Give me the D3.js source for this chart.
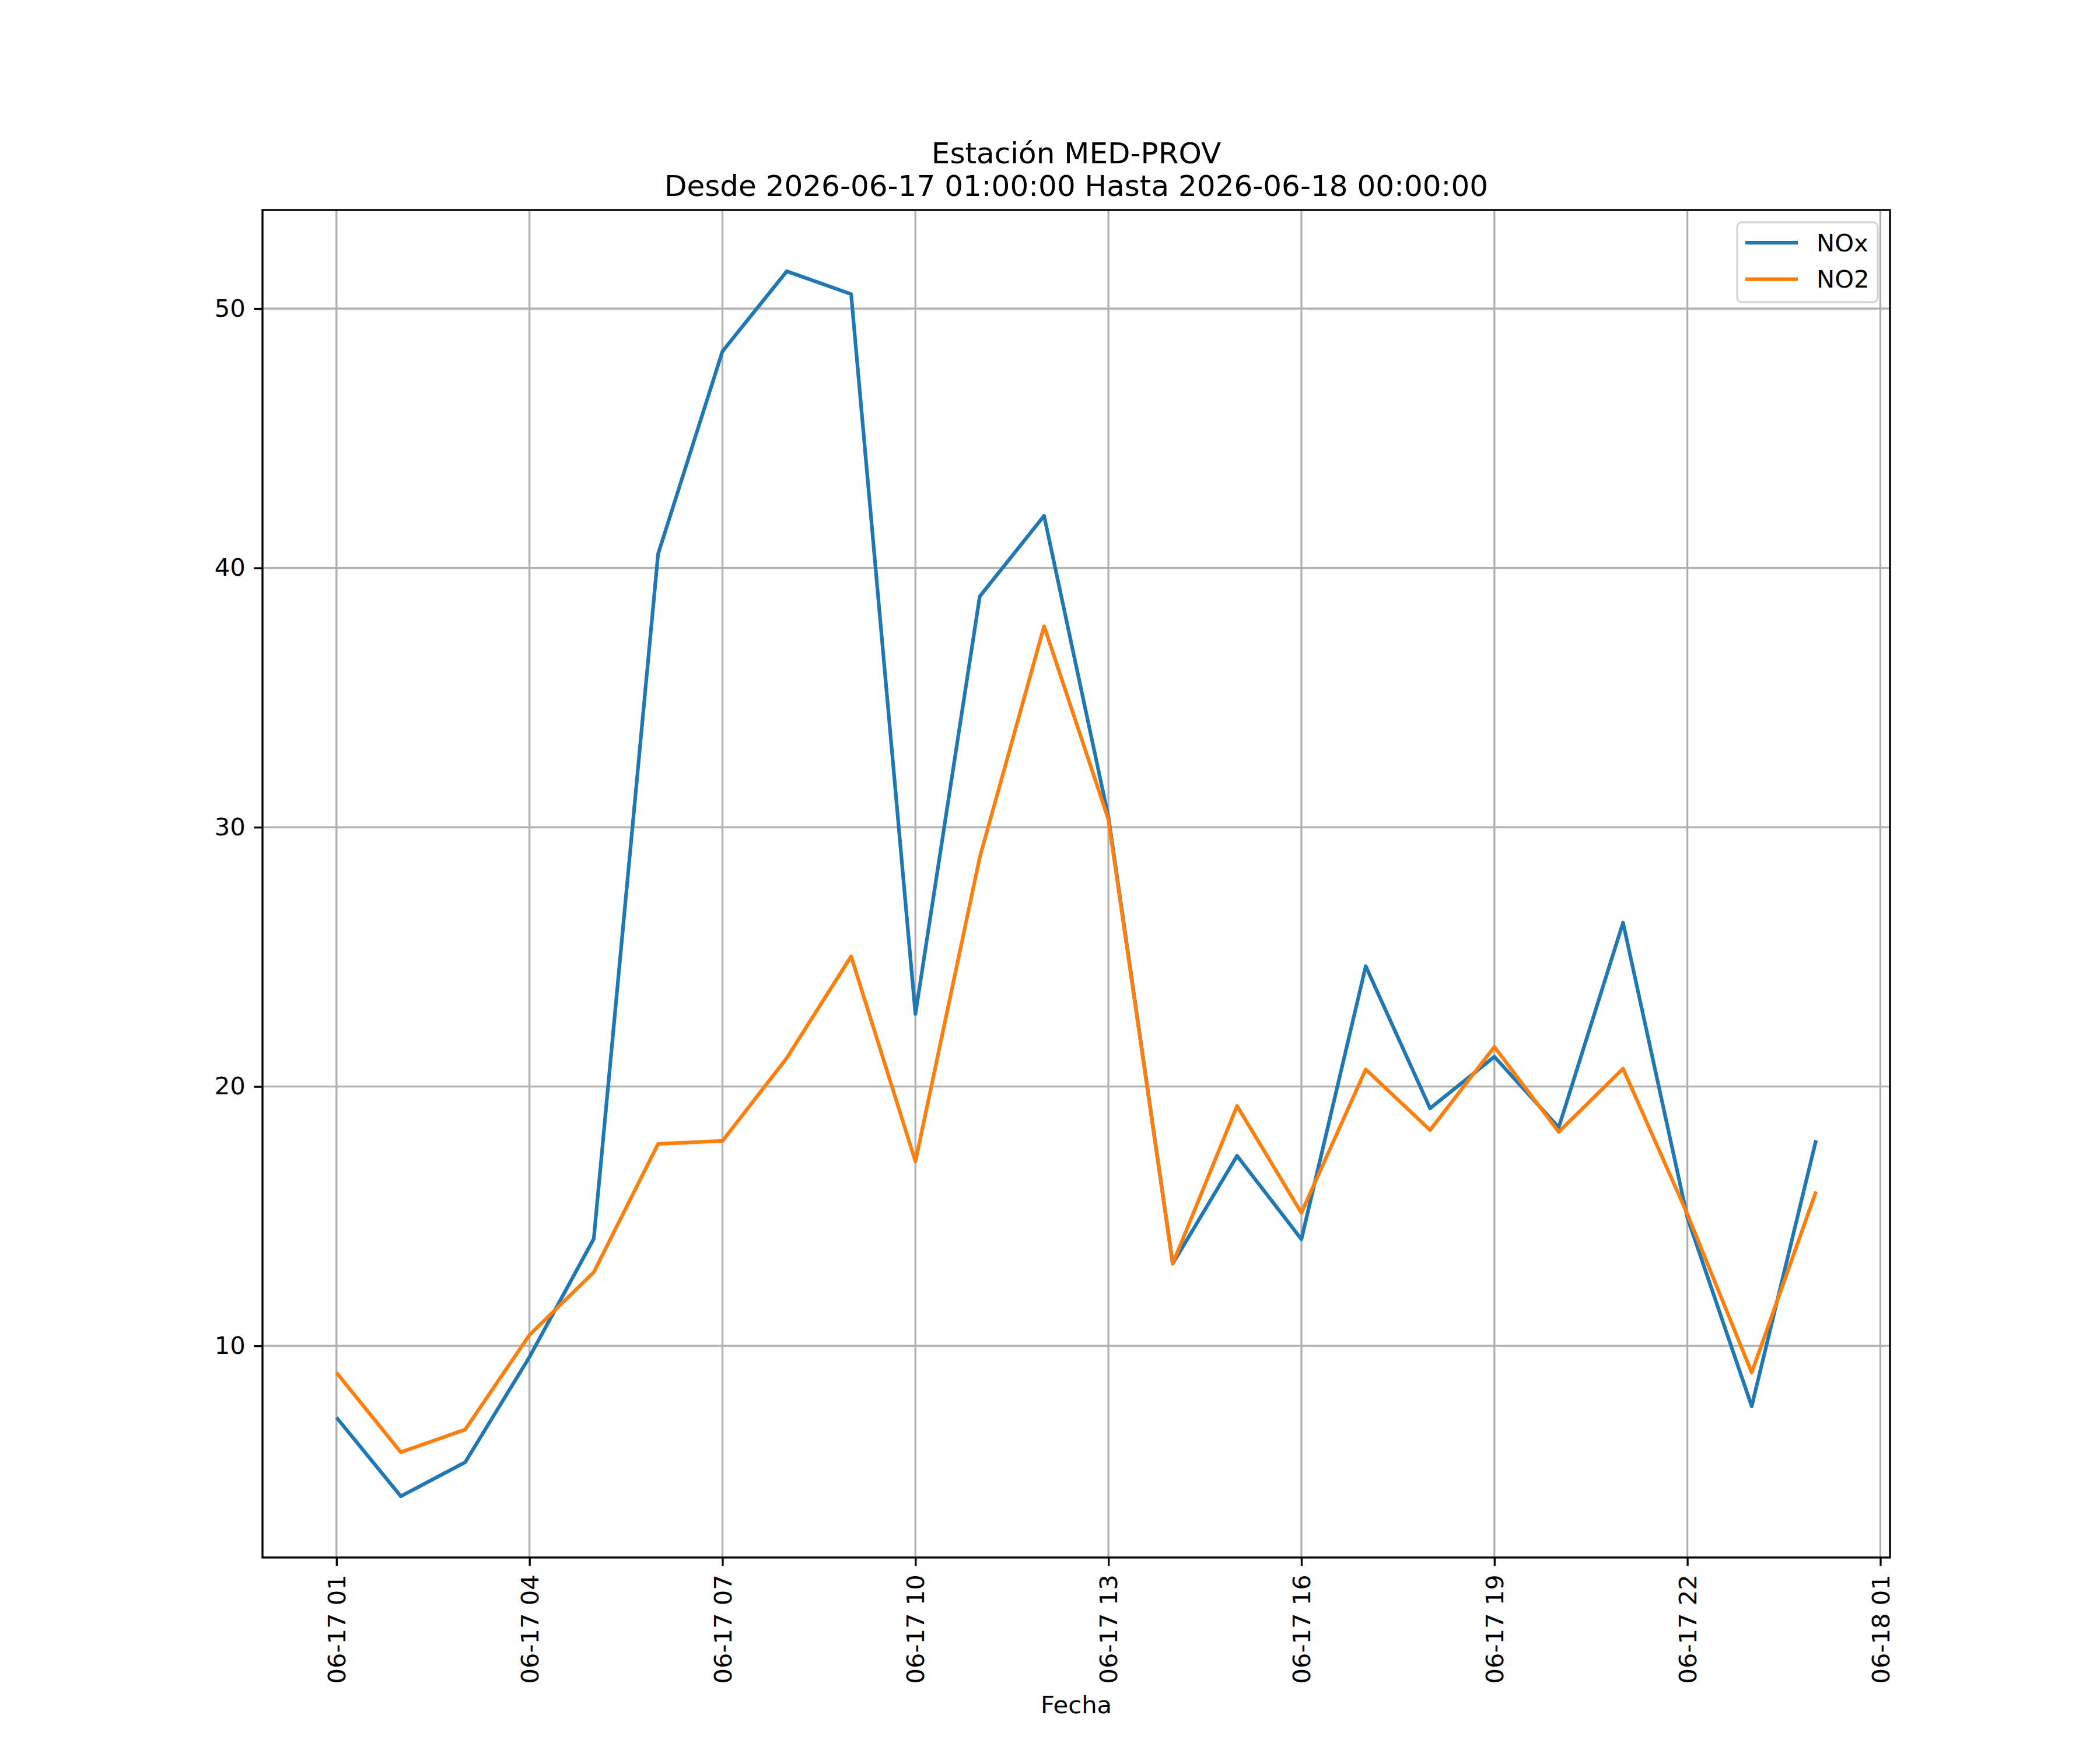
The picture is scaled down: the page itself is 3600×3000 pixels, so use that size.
<!DOCTYPE html>
<html>
<head>
<meta charset="utf-8">
<script src="https://cdn.jsdelivr.net/npm/d3@7"></script>
<style>
  html, body { margin: 0; padding: 0; background: #fff; }
  svg { display: block; }
  text { font-family: "DejaVu Sans", sans-serif; fill: #000; }
</style>
</head>
<body>
<svg id="chart" width="3600" height="3000"></svg>
<script>
const titleLines = ["Estación MED-PROV", "Desde 2026-06-17 01:00:00 Hasta 2026-06-18 00:00:00"];
const xAxisLabel = "Fecha";
const seriesNames = ["NOx", "NO2"];
const times = [
  "2026-06-17 01:00", "2026-06-17 02:00", "2026-06-17 03:00", "2026-06-17 04:00",
  "2026-06-17 05:00", "2026-06-17 06:00", "2026-06-17 07:00", "2026-06-17 08:00",
  "2026-06-17 09:00", "2026-06-17 10:00", "2026-06-17 11:00", "2026-06-17 12:00",
  "2026-06-17 13:00", "2026-06-17 14:00", "2026-06-17 15:00", "2026-06-17 16:00",
  "2026-06-17 17:00", "2026-06-17 18:00", "2026-06-17 19:00", "2026-06-17 20:00",
  "2026-06-17 21:00", "2026-06-17 22:00", "2026-06-17 23:00", "2026-06-18 00:00"
];
const noxValues = [7.24, 4.20, 5.51, 9.57, 14.13, 40.54, 48.35, 51.44, 50.56, 22.80, 38.90, 42.01,
                   30.40, 13.17, 17.33, 14.11, 24.64, 19.16, 21.15, 18.42, 26.32, 14.95, 7.67, 17.93];
const no2Values = [8.97, 5.90, 6.77, 10.42, 12.84, 17.79, 17.90, 21.10, 25.02, 17.11, 28.84, 37.75,
                   30.30, 13.17, 19.25, 15.13, 20.66, 18.32, 21.53, 18.25, 20.69, 15.08, 8.97, 15.95];
const xTickTimes = [
  "2026-06-17 01:00", "2026-06-17 04:00", "2026-06-17 07:00", "2026-06-17 10:00",
  "2026-06-17 13:00", "2026-06-17 16:00", "2026-06-17 19:00", "2026-06-17 22:00",
  "2026-06-18 01:00"
];
const yTicks = [10, 20, 30, 40, 50];
const colors = ["#1f77b4", "#ff7f0e"];

const W = 3600, H = 3000;
const m = { left: 450, right: 3240, top: 360, bottom: 2670 };
const fs = 41.67;
const parse = d3.utcParse("%Y-%m-%d %H:%M");
const fmt = d3.utcFormat("%m-%d %H");

const dates = times.map(parse);
const series = [noxValues, no2Values];

const t0 = dates[0].getTime(), t1 = dates[dates.length - 1].getTime();
const tPad = (t1 - t0) * 0.05;
const x = d3.scaleUtc().domain([new Date(t0 - tPad), new Date(t1 + tPad)]).range([m.left, m.right]);

const allV = noxValues.concat(no2Values);
const vMin = d3.min(allV), vMax = d3.max(allV);
const vPad = (vMax - vMin) * 0.05;
const y = d3.scaleLinear().domain([vMin - vPad, vMax + vPad]).range([m.bottom, m.top]);

const svg = d3.select("#chart");
svg.append("rect").attr("width", W).attr("height", H).attr("fill", "#fff");

// grid
const grid = svg.append("g");
grid.selectAll("line.vx").data(xTickTimes.map(parse)).enter().append("line")
  .attr("x1", d => x(d)).attr("x2", d => x(d)).attr("y1", m.top).attr("y2", m.bottom)
  .attr("stroke", "#b0b0b0").attr("stroke-width", 3.33);
grid.selectAll("line.hy").data(yTicks).enter().append("line")
  .attr("x1", m.left).attr("x2", m.right).attr("y1", d => y(d)).attr("y2", d => y(d))
  .attr("stroke", "#b0b0b0").attr("stroke-width", 3.33);

// lines
svg.append("clipPath").attr("id", "clip").append("rect")
  .attr("x", m.left).attr("y", m.top).attr("width", m.right - m.left).attr("height", m.bottom - m.top);
const line = d3.line().x((d, i) => x(dates[i])).y(d => y(d));
series.forEach((vals, k) => {
  svg.append("path").datum(vals).attr("d", line)
    .attr("fill", "none").attr("stroke", colors[k]).attr("stroke-width", 6.25)
    .attr("stroke-linejoin", "round").attr("stroke-linecap", "butt")
    .attr("clip-path", "url(#clip)");
});

// axes
const xAxis = d3.axisBottom(x).tickValues(xTickTimes.map(parse)).tickFormat(fmt)
  .tickSize(14.6).tickPadding(14.6);
const gx = svg.append("g").attr("transform", `translate(0,${m.bottom})`).call(xAxis);
gx.select(".domain").remove();
gx.selectAll(".tick line").attr("stroke", "#000").attr("stroke-width", 3.33);
gx.selectAll(".tick text")
  .attr("font-size", fs).attr("font-family", "DejaVu Sans")
  .attr("transform", "rotate(-90)")
  .attr("text-anchor", "end")
  .attr("x", -29.2).attr("y", 0).attr("dy", "0.35em");

const yAxis = d3.axisLeft(y).tickValues(yTicks).tickFormat(d3.format("d"))
  .tickSize(14.6).tickPadding(14.6);
const gy = svg.append("g").attr("transform", `translate(${m.left},0)`).call(yAxis);
gy.select(".domain").remove();
gy.selectAll(".tick line").attr("stroke", "#000").attr("stroke-width", 3.33);
gy.selectAll(".tick text").attr("font-size", fs).attr("font-family", "DejaVu Sans");

// frame
svg.append("rect").attr("x", m.left).attr("y", m.top)
  .attr("width", m.right - m.left).attr("height", m.bottom - m.top)
  .attr("fill", "none").attr("stroke", "#000").attr("stroke-width", 3.33);

// title
const cx = (m.left + m.right) / 2;
svg.append("text").attr("x", cx).attr("y", 280).attr("text-anchor", "middle")
  .attr("font-size", 50).text(titleLines[0]);
svg.append("text").attr("x", cx).attr("y", 336).attr("text-anchor", "middle")
  .attr("font-size", 50).text(titleLines[1]);

// x label
svg.append("text").attr("x", cx).attr("y", 2937).attr("text-anchor", "middle")
  .attr("font-size", fs).text(xAxisLabel);

// legend
const lg = svg.append("g");
lg.append("rect").attr("x", 2978).attr("y", 381).attr("width", 241).attr("height", 137)
  .attr("rx", 8).attr("ry", 8).attr("fill", "#fff").attr("fill-opacity", 0.8)
  .attr("stroke", "#d6d6d6").attr("stroke-width", 3.33);
seriesNames.forEach((name, k) => {
  const ly = 416 + k * 62.5;
  lg.append("line").attr("x1", 2992).attr("x2", 3082).attr("y1", ly).attr("y2", ly)
    .attr("stroke", colors[k]).attr("stroke-width", 6.25);
  lg.append("text").attr("x", 3114).attr("y", ly).attr("dy", "0.35em")
    .attr("font-size", fs).text(name);
});
</script>
</body>
</html>
